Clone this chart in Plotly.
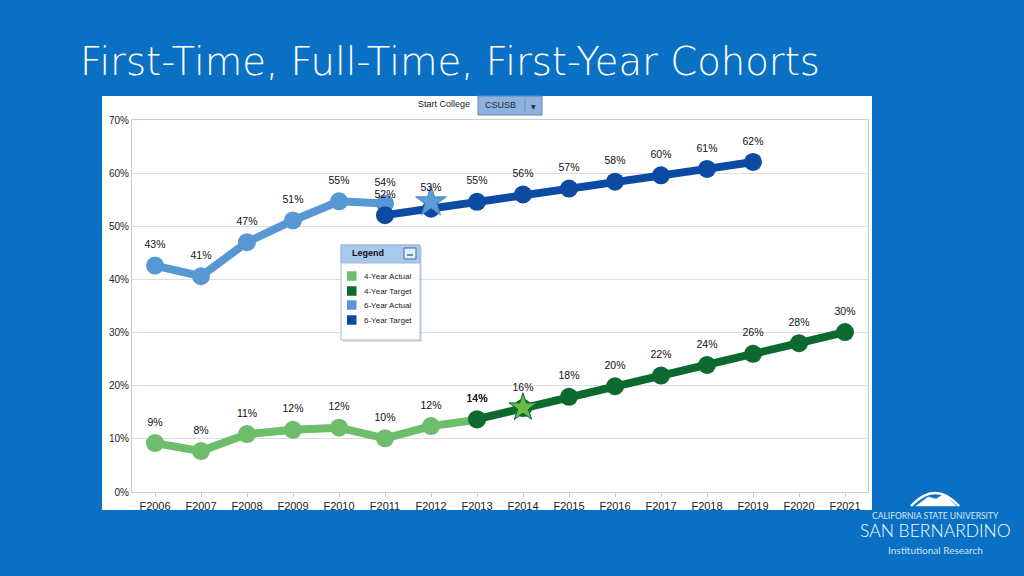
import plotly.graph_objects as go

# ---------------- data ----------------
years = ["F2006", "F2007", "F2008", "F2009", "F2010", "F2011", "F2012", "F2013",
         "F2014", "F2015", "F2016", "F2017", "F2018", "F2019", "F2020", "F2021"]

four_actual_years = years[0:8]
four_actual = [9.2, 7.7, 10.9, 11.7, 12.1, 10.1, 12.4, 13.6]

four_target_years = years[7:16]
four_target = [13.7, 15.8, 17.9, 19.9, 21.9, 23.9, 26.0, 28.0, 30.1]

six_actual_years = years[0:6]
six_actual = [42.6, 40.6, 47.0, 51.1, 54.7, 54.3]

six_target_years = years[5:14]
six_target = [52.1, 53.3, 54.6, 56.0, 57.1, 58.4, 59.6, 60.8, 62.1]

star4_years = ["F2014"]
star4 = [15.9]
star6_years = ["F2012"]
star6 = [54.6]

series_names = ["4-Year Actual", "4-Year Target", "6-Year Actual", "6-Year Target"]
series_colors = ["#6dbd6b", "#0c6a30", "#5797d3", "#0b4ba3"]

title_text = "First-Time, Full-Time, First-Year Cohorts"

# ---------------- geometry helpers (pixel -> paper) ----------------
FW, FH = 1024, 576
ML, MR, MT, MB = 132, 156, 120, 84
PW, PH = FW - ML - MR, FH - MT - MB


def px(x):
    return (x - ML) / PW


def py(y):
    return (FH - MB - y) / PH


fig = go.Figure()

label_font = dict(family="Liberation Sans, Arial", size=10.5, color="#111111")


def add_series(xs, ys, color, name):
    fig.add_trace(go.Scatter(
        x=xs, y=ys, name=name, mode="lines+markers",
        line=dict(color=color, width=8),
        marker=dict(color=color, size=18),
        showlegend=False, hoverinfo="skip"))


def add_labels(xs, ys, name):
    fig.add_trace(go.Scatter(
        x=xs, y=ys, name=name + " labels", mode="markers+text",
        marker=dict(size=22, opacity=0),
        texttemplate="%{y:.0f}%", textposition="top center",
        textfont=label_font, showlegend=False, cliponaxis=False,
        hoverinfo="skip"))


add_series(four_actual_years, four_actual, series_colors[0], series_names[0])
add_series(four_target_years, four_target, series_colors[1], series_names[1])
add_series(six_actual_years, six_actual, series_colors[2], series_names[2])
add_series(six_target_years, six_target, series_colors[3], series_names[3])

fig.add_trace(go.Scatter(
    x=star4_years, y=star4, mode="markers", showlegend=False, hoverinfo="skip",
    marker=dict(symbol="star", size=21, color="#6aba45",
                line=dict(color="#0c6a30", width=1))))
fig.add_trace(go.Scatter(
    x=star6_years, y=star6, mode="markers", showlegend=False, hoverinfo="skip",
    marker=dict(symbol="star", size=23, color="#5b9bd8",
                line=dict(color="#4a86c4", width=1))))

add_labels(four_actual_years, four_actual, series_names[0])
add_labels(four_target_years, four_target, series_names[1])
add_labels(six_actual_years, six_actual, series_names[2])
add_labels(six_target_years, six_target, series_names[3])

shapes = []
annotations = []

# white chart panel
shapes.append(dict(type="rect", xref="paper", yref="paper", layer="below",
                   x0=px(102), x1=px(872), y0=py(510), y1=py(96),
                   fillcolor="white", line=dict(width=0)))

# Start College selector
annotations.append(dict(xref="paper", yref="paper", x=px(472), y=py(104),
                        xanchor="right", yanchor="middle", showarrow=False,
                        text="Start College",
                        font=dict(family="Liberation Sans, Arial", size=9, color="#222")))
shapes.append(dict(type="rect", xref="paper", yref="paper",
                   x0=px(478), x1=px(542), y0=py(115), y1=py(96),
                   fillcolor="#8db2dd", line=dict(color="#5f84b6", width=1)))
shapes.append(dict(type="line", xref="paper", yref="paper",
                   x0=px(525), x1=px(525), y0=py(113), y1=py(98),
                   line=dict(color="#6f93c2", width=1)))
annotations.append(dict(xref="paper", yref="paper", x=px(483), y=py(105.5),
                        xanchor="left", yanchor="middle", showarrow=False,
                        text="CSUSB",
                        font=dict(family="Liberation Sans, Arial", size=9, color="#1a2a44")))
annotations.append(dict(xref="paper", yref="paper", x=px(533.5), y=py(106),
                        xanchor="center", yanchor="middle", showarrow=False,
                        text="▼",
                        font=dict(family="DejaVu Sans", size=6, color="#1a2a44")))

# Legend box
shapes.append(dict(type="rect", xref="paper", yref="paper",
                   x0=px(343), x1=px(422), y0=py(342), y1=py(247),
                   fillcolor="rgba(0,0,0,0.12)", line=dict(width=0)))
shapes.append(dict(type="rect", xref="paper", yref="paper",
                   x0=px(341), x1=px(420), y0=py(340), y1=py(245),
                   fillcolor="white", line=dict(color="#9fb8d6", width=1)))
shapes.append(dict(type="rect", xref="paper", yref="paper",
                   x0=px(341), x1=px(420), y0=py(263), y1=py(245),
                   fillcolor="#a8c8ec", line=dict(color="#9fb8d6", width=1)))
shapes.append(dict(type="rect", xref="paper", yref="paper",
                   x0=px(404), x1=px(416), y0=py(259), y1=py(248),
                   fillcolor="#e4eef9", line=dict(color="#3f6fa8", width=1)))
shapes.append(dict(type="line", xref="paper", yref="paper",
                   x0=px(407), x1=px(413), y0=py(255), y1=py(255),
                   line=dict(color="#3f6fa8", width=1.5)))
annotations.append(dict(xref="paper", yref="paper", x=px(350), y=py(253),
                        xanchor="left", yanchor="middle", showarrow=False,
                        text="<b>Legend</b>",
                        font=dict(family="Liberation Sans, Arial", size=9, color="#111")))
item_ys = [276, 291, 305, 320]
for name, color, yy in zip(series_names, series_colors, item_ys):
    shapes.append(dict(type="rect", xref="paper", yref="paper",
                       x0=px(347), x1=px(356.5), y0=py(yy + 4.75), y1=py(yy - 4.75),
                       fillcolor=color, line=dict(width=0)))
    annotations.append(dict(xref="paper", yref="paper", x=px(362), y=py(yy),
                            xanchor="left", yanchor="middle", showarrow=False,
                            text=name,
                            font=dict(family="Liberation Sans, Arial", size=8, color="#222")))

# Title
annotations.append(dict(xref="paper", yref="paper", x=px(78), y=py(62),
                        xanchor="left", yanchor="middle", showarrow=False,
                        text=title_text,
                        font=dict(family="DejaVu Sans ExtraLight, DejaVu Sans",
                                  size=38.6, color="white", weight=200)))

# Logo
shapes.append(dict(type="path", xref="paper", yref="paper",
                   path=("M {0},{1} Q {2},{3} {4},{1}").format(
                       px(911), py(506), px(935), py(480), px(959)),
                   line=dict(color="white", width=2.5)))
shapes.append(dict(type="path", xref="paper", yref="paper",
                   path=("M {0},{1} L {2},{3} L {4},{5} L {6},{7} L {8},{9} Z").format(
                       px(916), py(506), px(928), py(497), px(936), py(499),
                       px(944), py(494), px(956), py(506)),
                   fillcolor="white", line=dict(color="white", width=0.5)))
annotations.append(dict(xref="paper", yref="paper", x=px(935), y=py(516),
                        xanchor="center", yanchor="middle", showarrow=False,
                        text="CALIFORNIA STATE UNIVERSITY",
                        font=dict(family="Lato", size=8.5, color="#d9e6f5")))
annotations.append(dict(xref="paper", yref="paper", x=px(935), y=py(530),
                        xanchor="center", yanchor="middle", showarrow=False,
                        text="SAN BERNARDINO",
                        font=dict(family="Lato", size=17.5, color="white", weight=300)))
annotations.append(dict(xref="paper", yref="paper", x=px(935), y=py(550),
                        xanchor="center", yanchor="middle", showarrow=False,
                        text="Institutional Research",
                        font=dict(family="Lato", size=10, color="#cfe0f3")))

fig.update_layout(
    width=FW, height=FH,
    margin=dict(l=ML, r=MR, t=MT, b=MB),
    paper_bgcolor="#0a70c4",
    plot_bgcolor="white",
    shapes=shapes,
    annotations=annotations,
    showlegend=False,
)
fig.update_xaxes(
    type="category", categoryorder="array", categoryarray=years,
    range=[-0.5, len(years) - 0.5],
    showline=True, linecolor="#cccccc", linewidth=1, mirror=True,
    ticks="outside", ticklen=4, tickcolor="#cccccc",
    showgrid=False,
    tickfont=dict(family="Liberation Sans, Arial", size=11, color="#222"),
)
fig.update_yaxes(
    range=[0, 70], dtick=10, ticksuffix="%",
    showline=True, linecolor="#cccccc", linewidth=1, mirror=True,
    gridcolor="#dddddd", zeroline=False,
    tickfont=dict(family="Liberation Sans, Arial", size=10, color="#222"),
)

fig.write_html("out.html", config={"displayModeBar": False},
               post_script="document.body.style.margin='0';document.body.style.overflow='hidden';")
